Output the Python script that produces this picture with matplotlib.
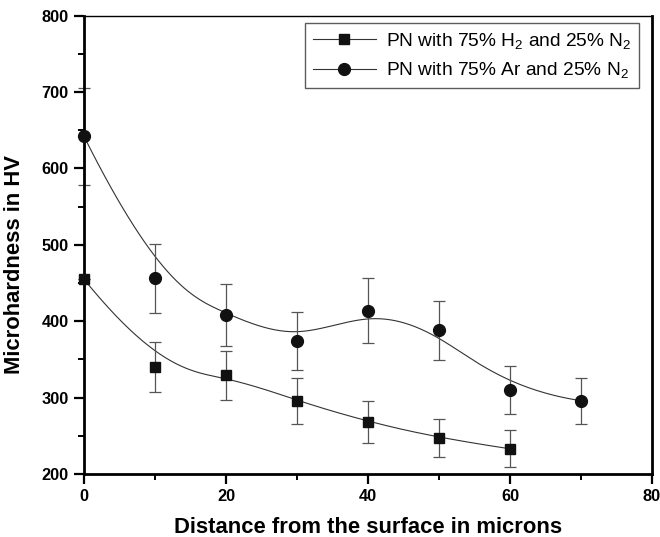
import numpy as np
import matplotlib.pyplot as plt

plt.rcParams['font.family'] = ['Liberation Sans', 'DejaVu Sans']
plt.rcParams['mathtext.fontset'] = 'custom'
plt.rcParams['mathtext.rm'] = 'Liberation Sans'
plt.rcParams['mathtext.default'] = 'regular'

# data
dist_h2 = [0, 10, 20, 30, 40, 50, 60]
hv_h2 = [455, 340, 329, 296, 268, 247, 233]
err_h2 = [0, 33, 32, 30, 27, 25, 24]

dist_ar = [0, 10, 20, 30, 40, 50, 60, 70]
hv_ar = [642, 456, 408, 374, 414, 388, 310, 296]
err_ar = [64, 45, 41, 38, 42, 39, 31, 30]


def bspline(xs, ys, num=300, k=3):
    # clamped cubic B-spline with the points as control points (Origin style)
    P = np.column_stack([xs, ys]).astype(float)
    n = len(P)
    inner = np.linspace(0, 1, n - k + 1)
    knots = np.concatenate([[0] * k, inner, [1] * k])
    t = np.linspace(0, 1, num)
    t[-1] = 1 - 1e-12

    def basis(i, p, t):
        if p == 0:
            return ((knots[i] <= t) & (t < knots[i + 1])).astype(float)
        a = 0.0
        if knots[i + p] != knots[i]:
            a = (t - knots[i]) / (knots[i + p] - knots[i]) * basis(i, p - 1, t)
        b = 0.0
        if knots[i + p + 1] != knots[i + 1]:
            b = (knots[i + p + 1] - t) / (knots[i + p + 1] - knots[i + 1]) * basis(i + 1, p - 1, t)
        return a + b

    B = np.array([basis(i, k, t) for i in range(n)])
    curve = B.T @ P
    return curve[:, 0], curve[:, 1]


fig = plt.figure(figsize=(6.6, 5.37), dpi=100)
ax = fig.add_axes([84 / 660, 63 / 537, 568 / 660, 458.3 / 537])

for xs, ys, es, mk, ms, lab in [
    (dist_h2, hv_h2, err_h2, 's', 7.5, 'PN with 75% H$_2$ and 25% N$_2$'),
    (dist_ar, hv_ar, err_ar, 'o', 8.5, 'PN with 75% Ar and 25% N$_2$'),
]:
    cx, cy = bspline(xs, ys)
    ax.plot(cx, cy, color='#333333', lw=0.8, zorder=2)
    ax.errorbar(xs, ys, yerr=es, fmt='none', ecolor='#555555', elinewidth=0.9,
                capsize=4.2, capthick=0.9, zorder=2, clip_on=False)
    ax.plot(xs, ys, mk, color='#111111', ms=ms, zorder=3, clip_on=False)
    ax.plot([], [], color='#333333', lw=0.8, marker=mk, mfc='#111111', mec='#111111',
            ms=ms, label=lab)

ax.set_xlim(0, 80)
ax.set_ylim(200, 800)
ax.set_xticks([0, 20, 40, 60, 80])
ax.set_xticks([10, 30, 50, 70], minor=True)
ax.set_yticks([200, 300, 400, 500, 600, 700, 800])
ax.set_yticks([250, 350, 450, 550, 650, 750], minor=True)

for s in ['left', 'bottom', 'right']:
    ax.spines[s].set_linewidth(2)
ax.spines['top'].set_linewidth(1)

ax.tick_params(which='major', direction='out', length=7, width=1.6, labelsize=11.8,
               top=False, right=False, pad=4)
ax.tick_params(which='minor', direction='out', length=4, width=1.4, top=False, right=False)
for lbl in ax.get_xticklabels() + ax.get_yticklabels():
    lbl.set_fontweight('bold')

ax.set_xlabel('Distance from the surface in microns', fontsize=15.8, fontweight='bold',
              labelpad=9)
ax.set_ylabel('Microhardness in HV', fontsize=15.8, fontweight='bold')
ax.yaxis.set_label_coords(-0.104, 0.456)

leg = ax.legend(loc='upper right', bbox_to_anchor=(0.977, 0.984), borderaxespad=0,
                handlelength=3.3, handletextpad=0.5, frameon=True, fancybox=False,
                borderpad=0.4, labelspacing=0.5, fontsize=13.8)
leg.get_frame().set_edgecolor('#333333')
leg.get_frame().set_linewidth(1.0)

fig.savefig('out.png', dpi=100)
